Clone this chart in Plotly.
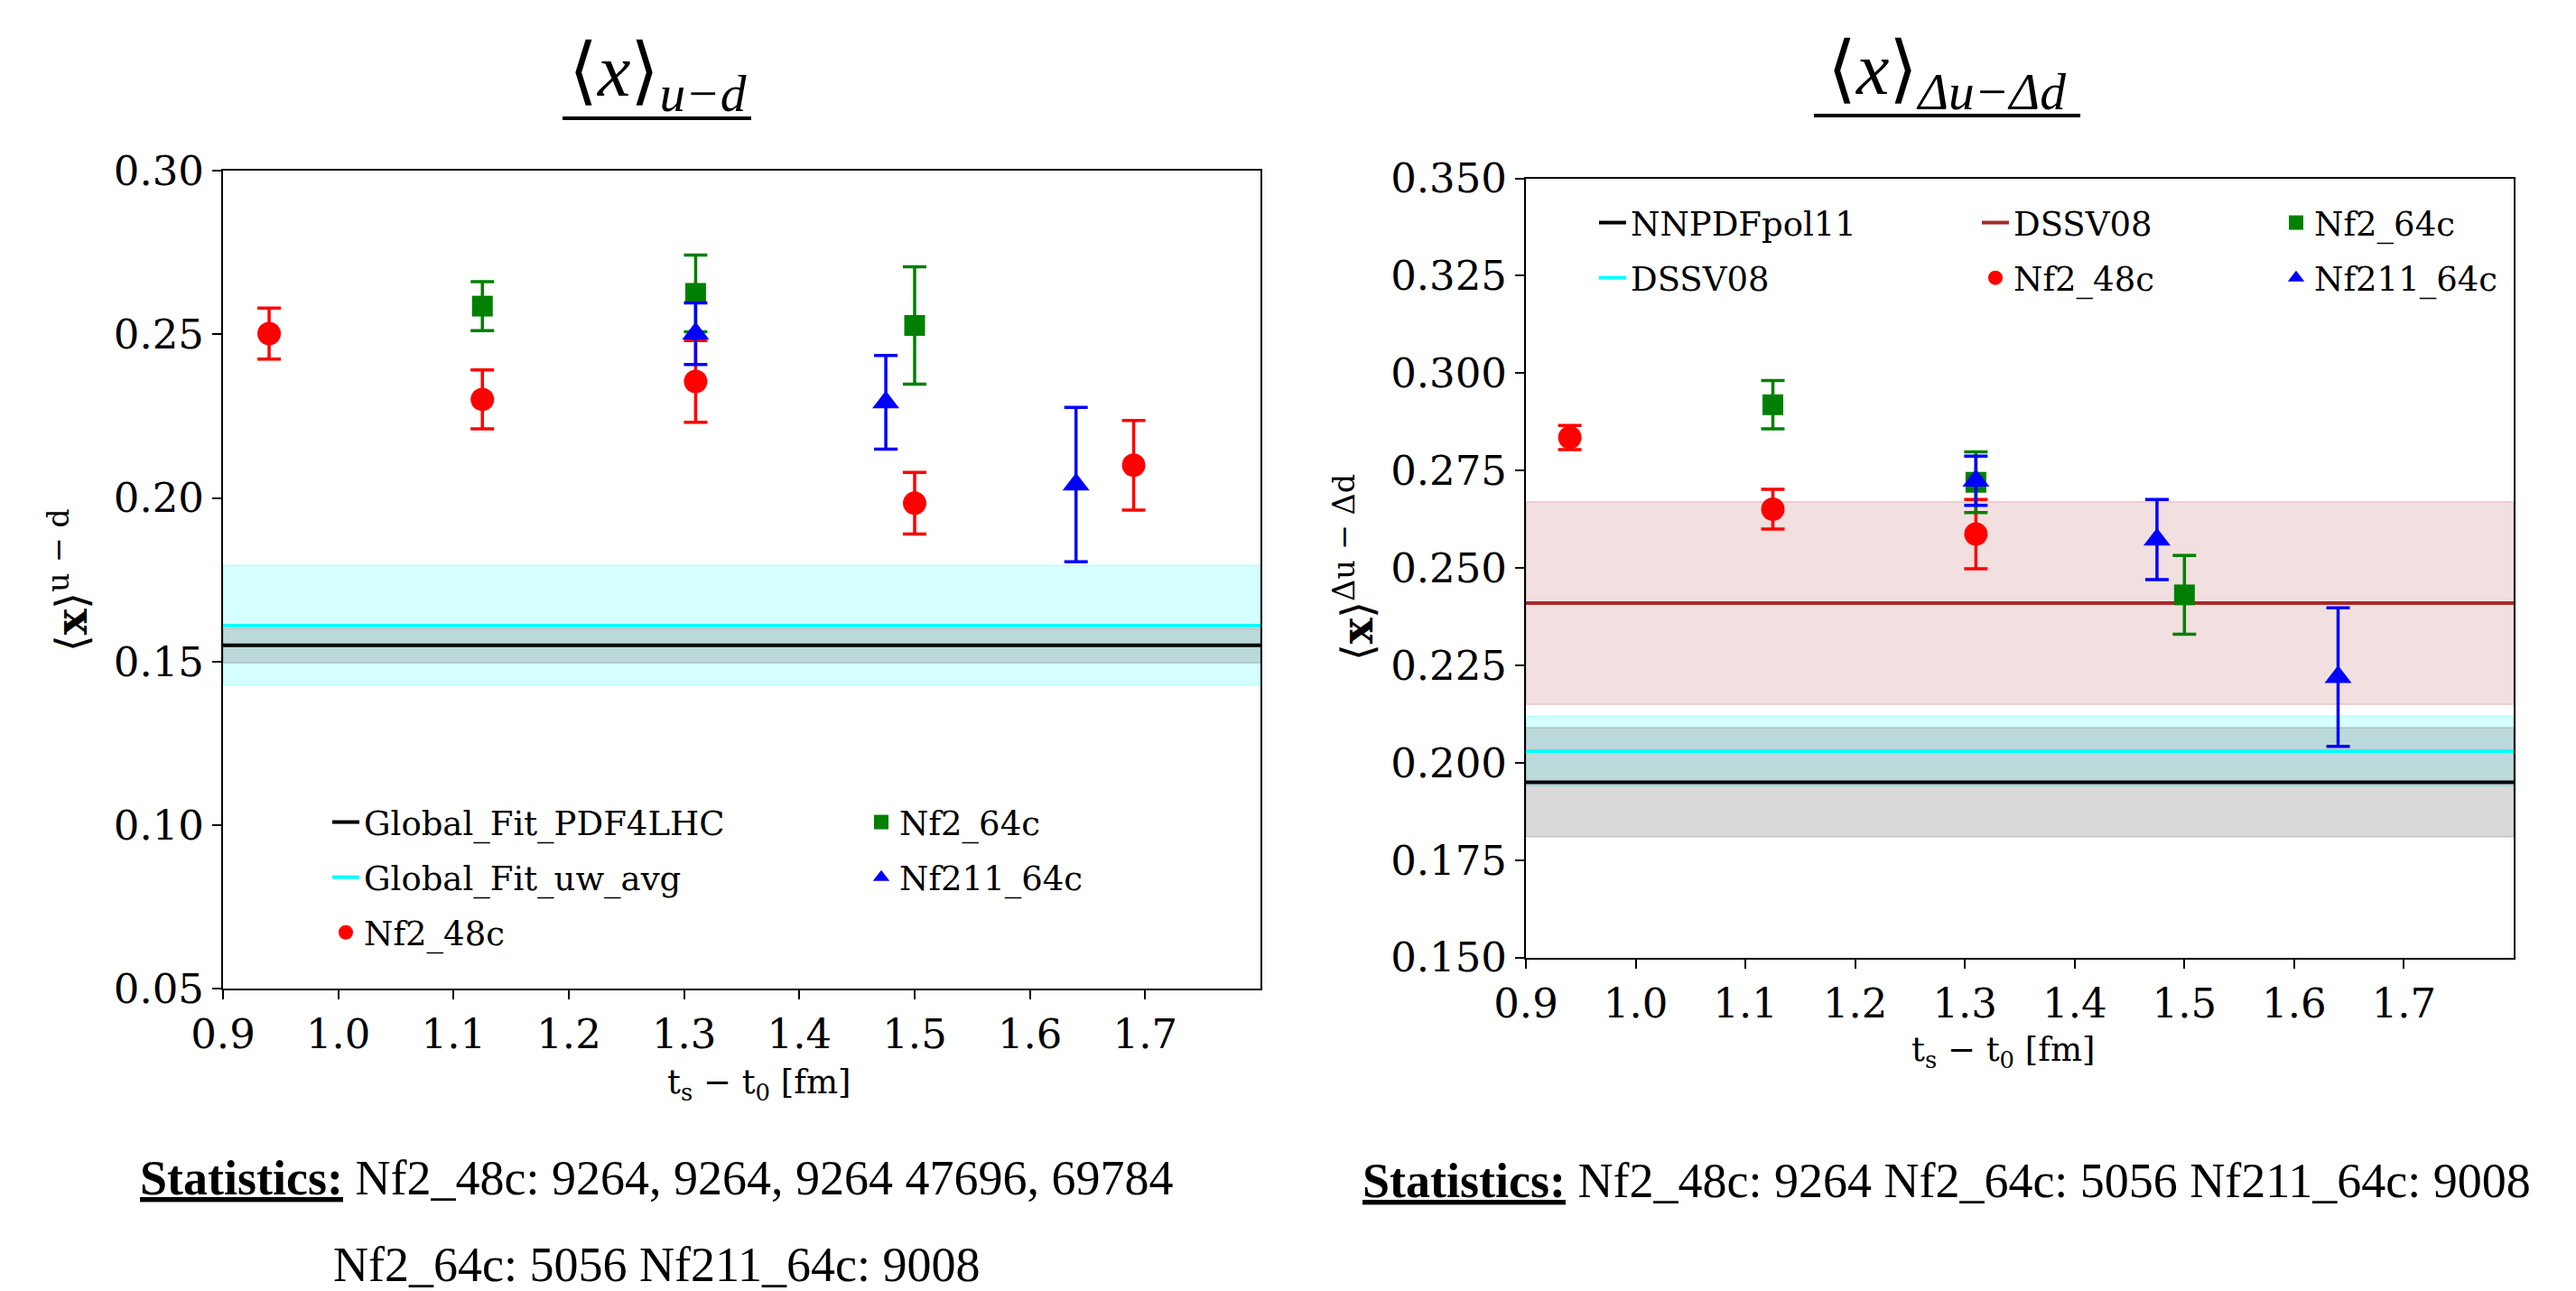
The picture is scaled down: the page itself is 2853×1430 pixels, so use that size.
import plotly.graph_objects as go

# ---------------- data ----------------
# left panel: <x>_{u-d}
L_ts_48 = [0.94, 1.125, 1.31, 1.50, 1.69]
L_val_48 = [0.2502, 0.2301, 0.2356, 0.1984, 0.2100]
L_err_48 = [0.0078, 0.0090, 0.0125, 0.0094, 0.0137]

L_ts_64 = [1.125, 1.31, 1.50]
L_val_64 = [0.2586, 0.2625, 0.2527]
L_err_64 = [0.0075, 0.0117, 0.0179]

L_ts_211 = [1.31, 1.475, 1.64]
L_val_211 = [0.2502, 0.2292, 0.2041]
L_err_211 = [0.0094, 0.0143, 0.0236]

L_pdf4lhc = 0.155
L_pdf4lhc_band = [0.1496, 0.1601]
L_uwavg = 0.161
L_uwavg_band = [0.1429, 0.1795]

# right panel: <x>_{Δu-Δd}
R_ts_48 = [0.94, 1.125, 1.31]
R_val_48 = [0.2835, 0.2651, 0.2587]
R_err_48 = [0.0031, 0.0051, 0.0089]

R_ts_64 = [1.125, 1.31, 1.50]
R_val_64 = [0.2919, 0.2720, 0.2431]
R_err_64 = [0.0062, 0.0078, 0.0101]

R_ts_211 = [1.31, 1.475, 1.64]
R_val_211 = [0.2724, 0.2573, 0.2220]
R_err_211 = [0.0063, 0.0103, 0.0178]

R_nnpdf = 0.195
R_nnpdf_band = [0.181, 0.209]
R_dssv_cyan = 0.203
R_dssv_cyan_band = [0.194, 0.212]
R_dssv_brown = 0.241
R_dssv_brown_band = [0.215, 0.267]

X_RANGE = [0.9, 1.8]
X_TICKS = [0.9, 1.0, 1.1, 1.2, 1.3, 1.4, 1.5, 1.6, 1.7]
L_Y_TICKS = [0.05, 0.10, 0.15, 0.20, 0.25, 0.30]
R_Y_TICKS = [0.150, 0.175, 0.200, 0.225, 0.250, 0.275, 0.300, 0.325, 0.350]

W, H = 2853, 1430
OFF = 8  # page body margin


def px(x):
    return (x - OFF) / W


def py(y):
    return 1 - (y - OFF) / H


TICK_FONT = dict(family="DejaVu Serif", size=45, color="black")
YLAB_FONT = dict(family="DejaVu Serif", size=48, color="black")
LEG_FONT = dict(family="DejaVu Serif", size=37, color="black")
LABEL_FONT = dict(family="DejaVu Serif", size=37, color="black")
TEXT_FONT = "Liberation Serif"

fig = go.Figure()


def band(xa, ya, lo, hi, fill, edge):
    fig.add_trace(go.Scatter(
        x=[X_RANGE[0], X_RANGE[1], X_RANGE[1], X_RANGE[0], X_RANGE[0]],
        y=[lo, lo, hi, hi, lo], xaxis=xa, yaxis=ya, mode="lines",
        fill="toself", fillcolor=fill, line=dict(color=edge, width=1.5),
        showlegend=False, hoverinfo="skip"))


def hline(xa, ya, v, color, name, legend, rank):
    fig.add_trace(go.Scatter(
        x=X_RANGE, y=[v, v], xaxis=xa, yaxis=ya, mode="lines",
        line=dict(color=color, width=4), name=name, legend=legend,
        legendrank=rank, legendgroup=f"{legend}_{rank}"))


def points(xa, ya, xs, ys, es, color, symbol, size, name, legend, rank):
    fig.add_trace(go.Scatter(
        x=xs, y=ys, xaxis=xa, yaxis=ya, mode="markers",
        marker=dict(color=color, symbol=symbol, size=size, line=dict(width=0)),
        error_y=dict(type="data", array=es, color=color, thickness=3.5, width=13),
        name=name, legend=legend, legendrank=rank, legendgroup=f"{legend}_{rank}"))


# ---- left panel ----
band("x", "y", L_uwavg_band[0], L_uwavg_band[1], "rgba(0,255,255,0.16)", "rgba(0,255,255,0.2)")
band("x", "y", L_pdf4lhc_band[0], L_pdf4lhc_band[1], "rgba(128,128,128,0.30)", "rgba(128,128,128,0.35)")
hline("x", "y", L_pdf4lhc, "black", "Global_Fit_PDF4LHC", "legend", 1)
hline("x", "y", L_uwavg, "cyan", "Global_Fit_uw_avg", "legend", 2)
points("x", "y", L_ts_48, L_val_48, L_err_48, "red", "circle", 26, "Nf2_48c", "legend", 3)
points("x", "y", L_ts_64, L_val_64, L_err_64, "green", "square", 23, "Nf2_64c", "legend2", 4)
points("x", "y", L_ts_211, L_val_211, L_err_211, "blue", "triangle-up", 26, "Nf211_64c", "legend2", 5)

# ---- right panel ----
band("x2", "y2", R_dssv_brown_band[0], R_dssv_brown_band[1], "rgba(165,42,42,0.15)", "rgba(165,42,42,0.18)")
band("x2", "y2", R_dssv_cyan_band[0], R_dssv_cyan_band[1], "rgba(0,255,255,0.16)", "rgba(0,255,255,0.2)")
band("x2", "y2", R_nnpdf_band[0], R_nnpdf_band[1], "rgba(128,128,128,0.30)", "rgba(128,128,128,0.35)")
hline("x2", "y2", R_nnpdf, "black", "NNPDFpol11", "legend3", 1)
hline("x2", "y2", R_dssv_cyan, "cyan", "DSSV08", "legend3", 2)
hline("x2", "y2", R_dssv_brown, "#a52a2a", "DSSV08", "legend4", 3)
points("x2", "y2", R_ts_48, R_val_48, R_err_48, "red", "circle", 26, "Nf2_48c", "legend4", 4)
points("x2", "y2", R_ts_64, R_val_64, R_err_64, "green", "square", 23, "Nf2_64c", "legend5", 5)
points("x2", "y2", R_ts_211, R_val_211, R_err_211, "blue", "triangle-up", 26, "Nf211_64c", "legend5", 6)

axis_common = dict(showline=True, mirror=True, linecolor="black", linewidth=2,
                   ticks="outside", ticklen=10, tickwidth=2, tickcolor="black",
                   showgrid=False, zeroline=False, tickfont=TICK_FONT,
                   automargin=False)

leg_common = dict(font=LEG_FONT, bgcolor="rgba(0,0,0,0)", xanchor="left",
                  yanchor="top", tracegroupgap=10, itemwidth=30)

fig.update_layout(
    width=W, height=H, margin=dict(l=0, r=0, t=0, b=0, autoexpand=False),
    paper_bgcolor="white", plot_bgcolor="white",
    xaxis=dict(domain=[px(247), px(1396)], range=X_RANGE, tickvals=X_TICKS,
               tickformat=".1f", anchor="y", **axis_common),
    yaxis=dict(domain=[py(1095.4), py(189)], range=[0.05, 0.30],
               tickvals=L_Y_TICKS, tickformat=".2f", anchor="x", **axis_common),
    xaxis2=dict(domain=[px(1690), px(2784)], range=X_RANGE, tickvals=X_TICKS,
                tickformat=".1f", anchor="y2", **axis_common),
    yaxis2=dict(domain=[py(1060.7), py(197.6)], range=[0.15, 0.35],
                tickvals=R_Y_TICKS, tickformat=".3f", anchor="x2", **axis_common),
    legend=dict(x=px(363), y=py(880), **leg_common),
    legend2=dict(x=px(956), y=py(880), **leg_common),
    legend3=dict(x=px(1766), y=py(216), **leg_common),
    legend4=dict(x=px(2190), y=py(216), **leg_common),
    legend5=dict(x=px(2523), y=py(216), **leg_common),
    showlegend=True,
)

ann = []
# axis titles
ann.append(dict(text="t<sub>s</sub> − t<sub>0</sub> [fm]", x=px(840), y=py(1201),
                font=LABEL_FONT))
ann.append(dict(text="t<sub>s</sub> − t<sub>0</sub> [fm]", x=px(2218), y=py(1165),
                font=LABEL_FONT))
ann.append(dict(text="⟨<b>x</b>⟩<sup>u − d</sup>", x=px(76), y=py(643),
                textangle=-90, font=YLAB_FONT))
ann.append(dict(text="⟨<b>x</b>⟩<sup>Δu − Δd</sup>", x=px(1500), y=py(629),
                textangle=-90, font=YLAB_FONT))
# panel titles
ann.append(dict(text="⟨<i>x</i>⟩<sub><i>u−d</i></sub>", x=px(728), y=py(84),
                font=dict(family=TEXT_FONT, size=82, color="black")))
ann.append(dict(text="⟨<i>x</i>⟩<sub><i>Δu−Δd</i></sub>", x=px(2156), y=py(82),
                font=dict(family=TEXT_FONT, size=82, color="black")))
# statistics
STAT_FONT = dict(family=TEXT_FONT, size=54, color="black")
ann.append(dict(text="<b><u>Statistics:</u></b> Nf2_48c: 9264, 9264, 9264 47696, 69784",
                x=px(727), y=py(1305), font=STAT_FONT))
ann.append(dict(text="Nf2_64c: 5056 Nf211_64c: 9008",
                x=px(727), y=py(1401), font=STAT_FONT))
ann.append(dict(text="<b><u>Statistics:</u></b> Nf2_48c: 9264 Nf2_64c: 5056 Nf211_64c: 9008",
                x=px(2156), y=py(1308), font=STAT_FONT))
for a in ann:
    a.update(xref="paper", yref="paper", showarrow=False, xanchor="center", yanchor="middle")
fig.update_layout(annotations=ann)

# title underlines
fig.update_layout(shapes=[
    dict(type="line", xref="paper", yref="paper", x0=px(623), x1=px(832),
         y0=py(131), y1=py(131), line=dict(color="black", width=4)),
    dict(type="line", xref="paper", yref="paper", x0=px(2009), x1=px(2304),
         y0=py(128), y1=py(128), line=dict(color="black", width=4)),
])

fig.write_html("out.html")
